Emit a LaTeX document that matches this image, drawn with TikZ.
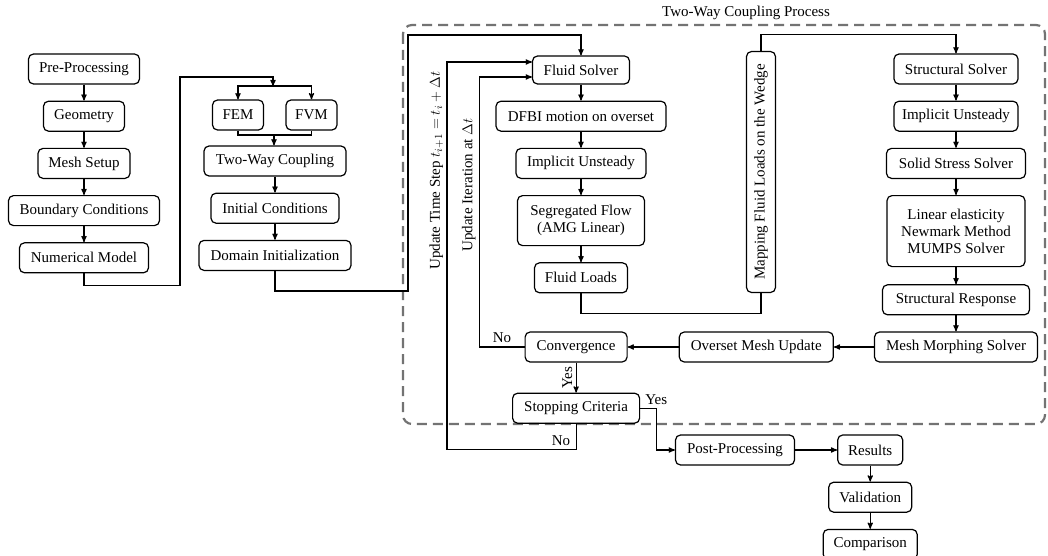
\documentclass[tikz,border=0pt]{standalone}
\usepackage{fontspec}
\setmainfont{Liberation Serif}
\usepackage{amsmath}
\usetikzlibrary{arrows,positioning}

\begin{document}
\begin{tikzpicture}[x=1pt,y=-1pt,->,>=stealth',line width=1.2pt,node distance=16pt,
  font=\fontsize{15}{17}\selectfont,
  blk/.style={draw,rounded corners=5pt,minimum height=30pt,inner xsep=8pt,inner ysep=2pt,align=center},
  loop/.style={draw=black!55,dash pattern=on 10pt off 6pt,line width=2.2pt,rounded corners=9pt,-}]
\useasboundingbox (0,0) rectangle (1048,556);
\draw[loop] (403,25) rectangle (1045,424);
\node[inner sep=0pt] (title) at (746,13) {Two-Way Coupling Process};
\node[blk,minimum width=111pt] (pre) at (84,69) {Pre-Processing};
\node[blk,minimum width=81pt] (geo) [below=of pre] {Geometry};
\node[blk,minimum width=92pt] (mesh) [below=of geo] {Mesh Setup};
\node[blk,minimum width=151pt] (bc) [below=of mesh] {Boundary Conditions};
\node[blk,minimum width=129pt] (num) [below=of bc] {Numerical Model};
\node[blk,minimum width=51pt] (fem) at (238,115) {FEM};
\node[blk,minimum width=51pt] (fvm) at (311.5,115) {FVM};
\node[blk,minimum width=142pt] (twc) at (275,161) {Two-Way Coupling};
\node[blk,minimum width=128pt] (ic) [below=of twc] {Initial Conditions};
\node[blk,minimum width=152pt] (dom) [below=of ic] {Domain Initialization};
\node[blk,minimum width=97pt,minimum height=28pt] (fs) at (581,70) {Fluid Solver};
\node[blk,minimum width=170pt] (dfbi) [below=of fs] {DFBI motion on overset};
\node[blk,minimum width=130pt] (fiu) [below=of dfbi] {Implicit Unsteady};
\node[blk,minimum width=127pt,minimum height=50pt] (seg) [below=of fiu] {Segregated Flow\\(AMG Linear)};
\node[blk,minimum width=93pt] (fl) [below=of seg] {Fluid Loads};
\node[blk,rotate=90,minimum width=241pt,minimum height=29pt] (map) at (761,172) {Mapping Fluid Loads on the Wedge};
\node[blk,minimum width=124pt] (ss) at (956,69) {Structural Solver};
\node[blk,minimum width=112pt] (siu) [below=of ss] {Implicit Unsteady};
\node[blk,minimum width=139pt] (sss) [below=of siu] {Solid Stress Solver};
\node[blk,minimum width=138pt,minimum height=71pt] (lin) [below=of sss] {Linear elasticity\\Newmark Method\\MUMPS Solver};
\node[blk,minimum width=147pt] (sresp) [below=17pt of lin] {Structural Response};
\node[blk,minimum width=163pt] (morph) [below=of sresp] {Mesh Morphing Solver};
\node[blk,minimum width=154pt] (oset) [left=40pt of morph] {Overset Mesh Update};
\node[blk,minimum width=102pt] (conv) [left=51pt of oset] {Convergence};
\node[blk,minimum width=127pt] (stop) [below=30pt of conv] {Stopping Criteria};
\node[blk,minimum width=119pt] (post) at (735,450) {Post-Processing};
\node[blk,minimum width=65pt] (res) [right=42pt of post] {Results};
\node[blk,minimum width=83pt] (val) [below=of res] {Validation};
\node[blk,minimum width=94pt] (comp) [below=of val] {Comparison};
\coordinate (split) at (273,86);
\coordinate (join) at (274,135);
\coordinate (fsin1) at ([yshift=8pt]fs.west);
\coordinate (fsin2) at ([yshift=-7pt]fs.west);
\coordinate (ts) at (447,0);
\draw[->] (pre) -- (geo);
\draw[->] (geo) -- (mesh);
\draw[->] (mesh) -- (bc);
\draw[->] (bc) -- (num);
\draw[->] (num.south) -- ++(0,12) -| (180,77) -| (split);
\draw[->] (split) -| (fem.north);
\draw[->] (split) -| (fvm.north);
\draw[-] (fem.south) |- (fvm.south |- join) -- (fvm.south);
\draw[->] (join) -- (join |- twc.north);
\draw[->] (twc) -- (ic);
\draw[->] (ic) -- (dom);
\draw[->] (dom.south) -- ++(0,20) -| (408,35) -| (fs.north);
\draw[->] (fs) -- (dfbi);
\draw[->] (dfbi) -- (fiu);
\draw[->] (fiu) -- (seg);
\draw[->] (seg) -- (fl);
\draw[-] (fl.south) -- ++(0,20) -| (map.west);
\draw[->] (map.east) -- ++(0,-16) -| (ss.north);
\draw[->] (ss) -- (siu);
\draw[->] (siu) -- (sss);
\draw[->] (sss) -- (lin);
\draw[->] (lin) -- (sresp);
\draw[->] (sresp) -- (morph);
\draw[->] (morph) -- (oset);
\draw[->] (oset) -- (conv);
\draw[->] (conv.west) -- node[above]{No} ++(-45,0) |- node[pos=0.30,above,sloped]{Update Iteration at $\Delta t$} (fsin2);
\draw[->] (conv.south) -- node[midway,rotate=90,anchor=south]{Yes} (conv.south |- stop.north);
\draw[->] (stop.south) -- ++(0,26) node[above left=0pt and 2pt]{No} -| node[pos=0.86,above,sloped]{Update Time Step $t_{i+1}=t_i+\Delta t$} (ts |- fsin1) -- (fsin1);
\draw[->] (stop.east) -- ++(16,0) node[above]{Yes} |- (post.west);
\draw[->] (post) -- (res);
\draw[->] (res) -- (val);
\draw[->] (val) -- (comp);
\end{tikzpicture}
\end{document}
